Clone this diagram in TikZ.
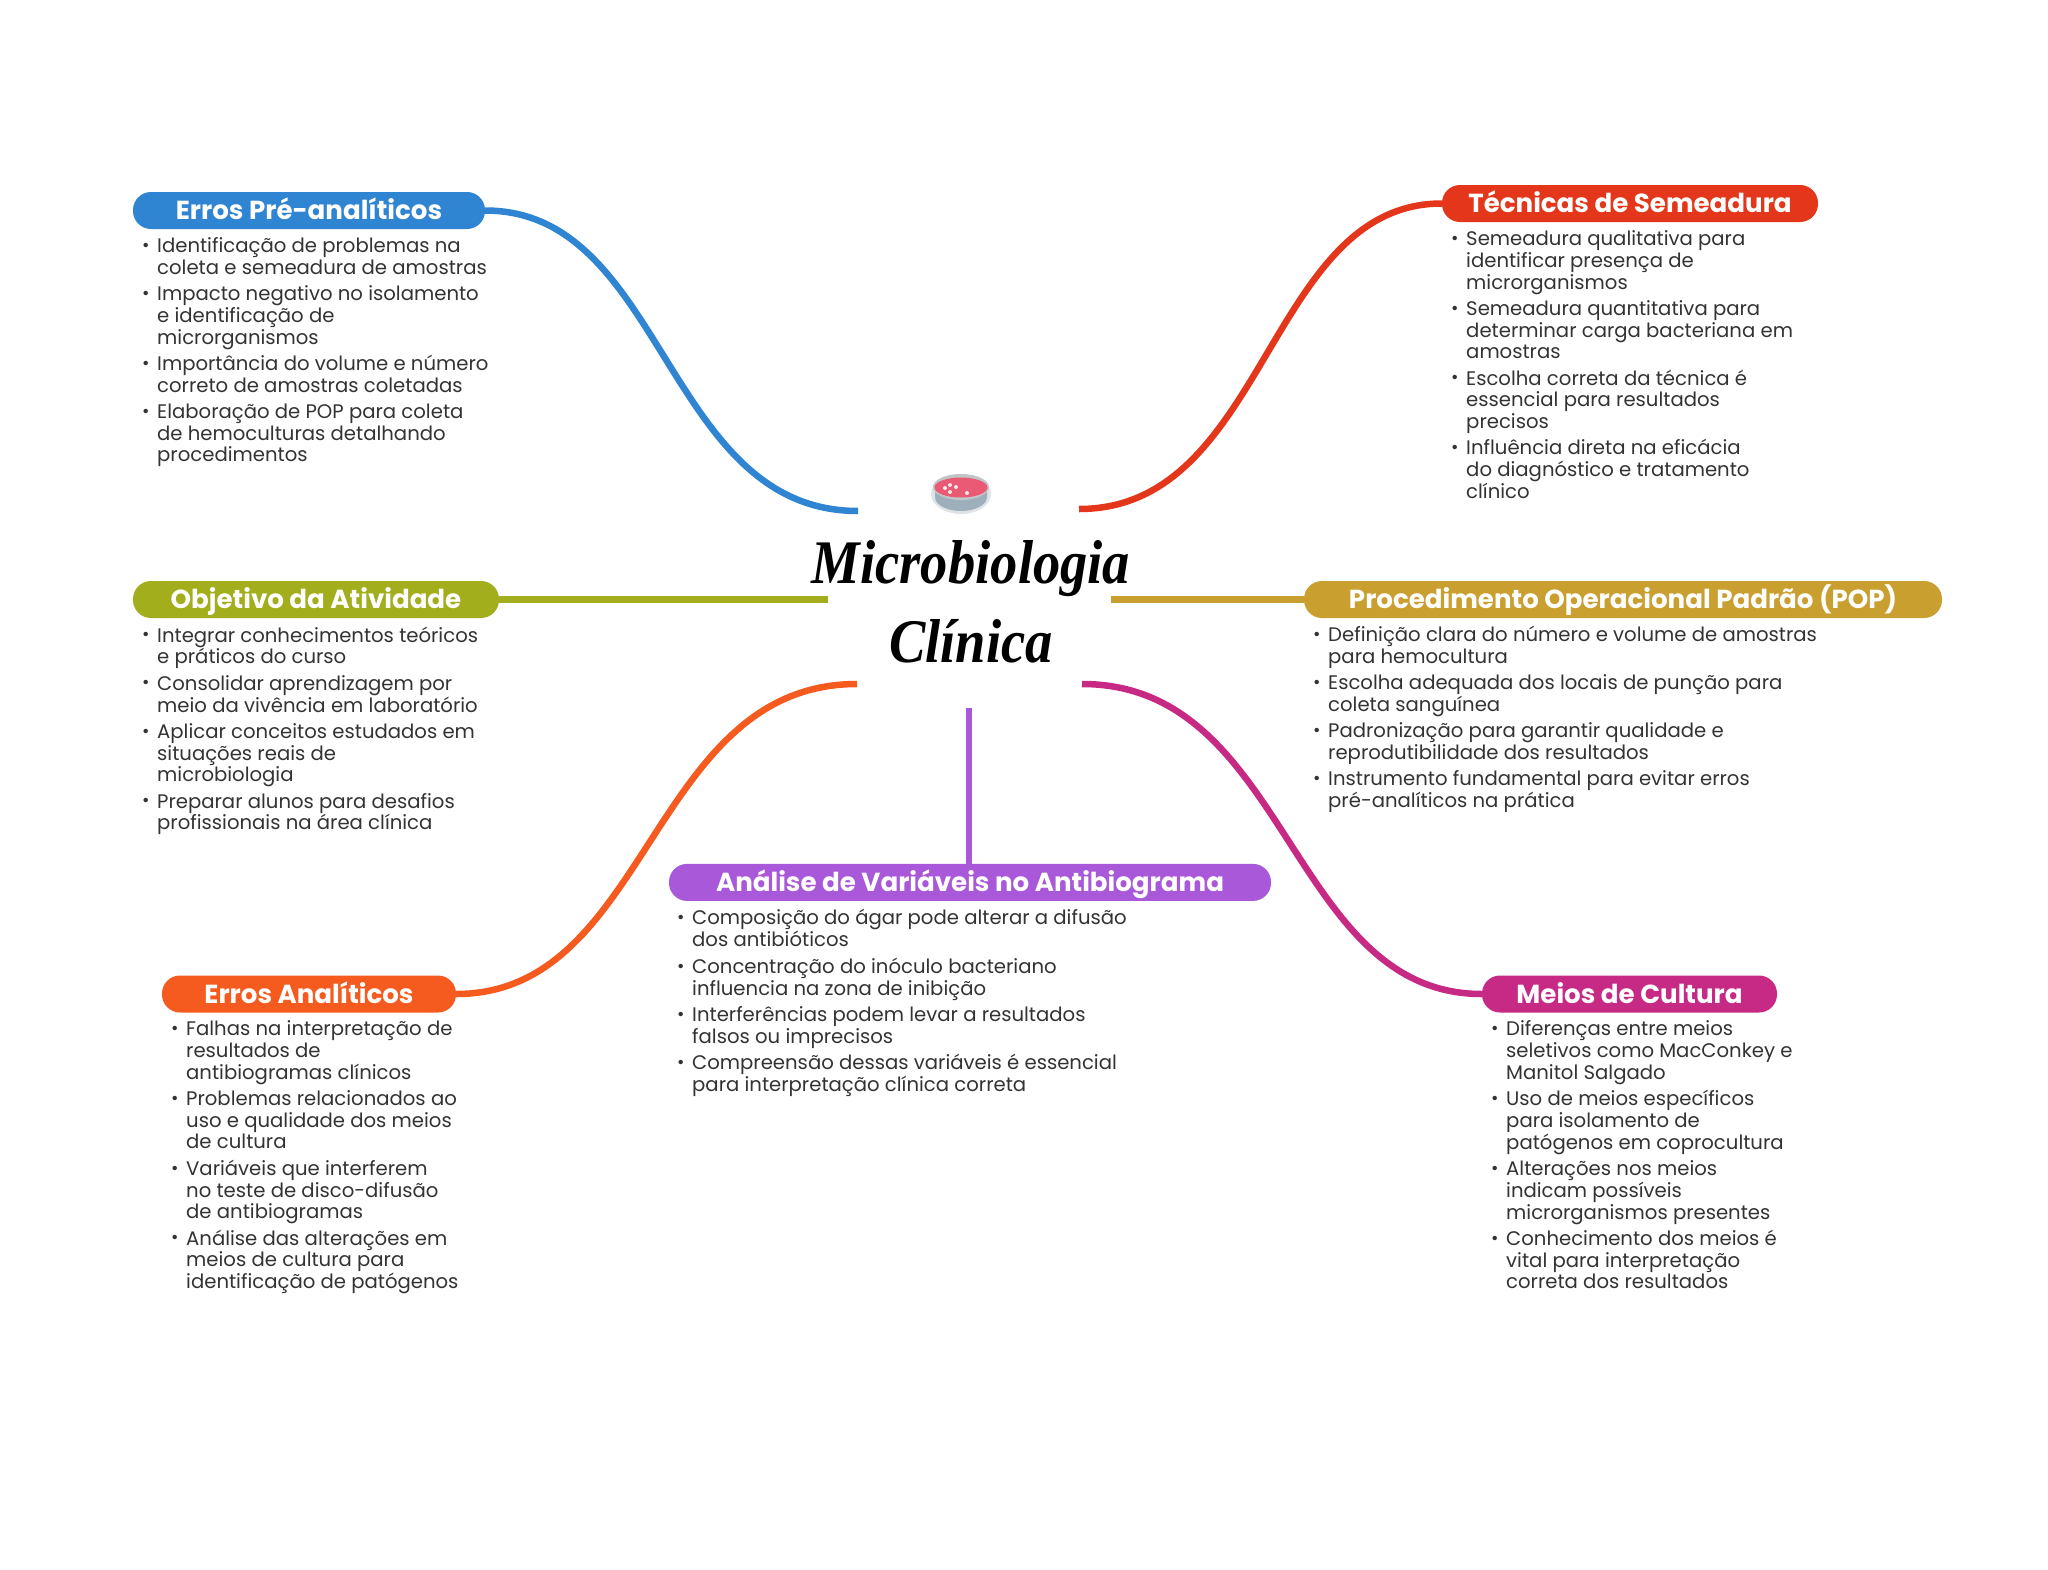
\documentclass[tikz,border=0pt]{standalone}
\usepackage{fontspec}
\setmainfont{Poppins}
\newfontfamily\titlefont[FakeStretch=0.88]{Liberation Serif}
\definecolor{cblue}{HTML}{3085D3}
\definecolor{cred}{HTML}{E4361A}
\definecolor{colive}{HTML}{A2AE1C}
\definecolor{cgold}{HTML}{C9A02F}
\definecolor{corange}{HTML}{F55B1F}
\definecolor{cmag}{HTML}{C62A85}
\definecolor{cpurple}{HTML}{A858D8}
\definecolor{ctext}{HTML}{333333}
\definecolor{petririm}{HTML}{DDE3E7}
\definecolor{petriside}{HTML}{9DAFBA}
\definecolor{petritop}{HTML}{EA5A74}
\newcommand\rowstrut{\vrule height15.19pt depth6.51pt width0pt}
\newcommand\bu[1]{\hbox{\rowstrut\makebox[15pt][l]{\raisebox{1.2pt}{\fontsize{18}{18}\selectfont •}}#1}}
\newcommand\co[1]{\hbox{\rowstrut\hspace*{15pt}#1}}
\newcommand\gp{\vskip4.5pt}
\tikzset{
  pill/.style={rounded corners=18pt,fill=#1,text=white,inner sep=0pt,minimum height=37pt,
    text height=22pt,text depth=4pt,font=\fontsize{26.1}{30}\selectfont\bfseries},
  blist/.style={anchor=north west,inner sep=0pt,text=ctext,
    font=\fontsize{19.65}{21.7}\selectfont},
  link/.style={line width=6.5pt,draw=#1},
  titletxt/.style={align=center,inner sep=0pt,text=black,
    font=\fontsize{62}{79}\titlefont\itshape\bfseries}
}
\begin{document}
\begin{tikzpicture}[x=1pt,y=-1pt]
\useasboundingbox (0,0) rectangle (2048,1569);
\fill[white] (0,0) rectangle (2048,1569);

% centre
\node[titletxt] (title) at (971,602) {Microbiologia\\Clínica};
\coordinate (e1) at (858,511);
\coordinate (e2) at (1079,509);
\coordinate (e3) at (828,599.5);
\coordinate (e4) at (1111,599.5);
\coordinate (e5) at (857,684);
\coordinate (e6) at (1082,684);
\coordinate (e7) at (969,708);

% petri dish
\fill[petririm] (961,494) ellipse (30pt and 20pt);
\fill[petriside] (935,489) -- (987,489) -- (987,497) arc[start angle=0,end angle=180,x radius=26pt,y radius=-14pt] -- cycle;
\fill[petririm!70!gray] (961,487) ellipse (28pt and 13pt);
\fill[petritop] (961,487.5) ellipse (26.5pt and 10pt);
\foreach \px/\py in {950/485,956/487,945/488,950/492,967/493}{\fill[white!85!petritop] (\px,\py) circle (2pt);}

% topics
\node[pill=cblue,minimum width=352pt] (n1) at (309,210.5) {Erros Pré-analíticos};
\node[pill=cred,minimum width=376pt] (n2) at (1630,203.5) {Técnicas de Semeadura};
\node[pill=colive,minimum width=366pt] (n3) at (316,599.5) {Objetivo da Atividade};
\node[pill=cgold,minimum width=638pt] (n4) at (1623,599.5) {Procedimento Operacional Padrão (POP)};
\node[pill=corange,minimum width=294pt] (n5) at (309,994) {Erros Analíticos};
\node[pill=cmag,minimum width=295pt] (n6) at (1629.5,994) {Meios de Cultura};
\node[pill=cpurple,minimum width=602pt] (n7) at (970,882.4) {Análise de Variáveis no Antibiograma};

% connectors
\draw[link=cblue] (n1.east) .. controls (665,210.5) and (665,511) .. (e1);
\draw[link=cred] (n2.west) .. controls (1267,203.5) and (1267,509) .. (e2);
\draw[link=colive] (n3.east) -- (e3);
\draw[link=cgold] (n4.west) -- (e4);
\draw[link=corange] (n5.east) .. controls (650,994) and (650,684) .. (e5);
\draw[link=cmag] (n6.west) .. controls (1289,994) and (1289,684) .. (e6);
\draw[link=cpurple] (n7.north -| e7) -- (e7);

% lists
\node[blist] (l1) at (142,237.4) {\vbox{\offinterlineskip
\bu{Identificação de problemas na}\co{coleta e semeadura de amostras}\gp
\bu{Impacto negativo no isolamento}\co{e identificação de}\co{microrganismos}\gp
\bu{Importância do volume e número}\co{correto de amostras coletadas}\gp
\bu{Elaboração de POP para coleta}\co{de hemoculturas detalhando}\co{procedimentos}}};
\node[blist] (l2) at (1451,230.4) {\vbox{\offinterlineskip
\bu{Semeadura qualitativa para}\co{identificar presença de}\co{microrganismos}\gp
\bu{Semeadura quantitativa para}\co{determinar carga bacteriana em}\co{amostras}\gp
\bu{Escolha correta da técnica é}\co{essencial para resultados}\co{precisos}\gp
\bu{Influência direta na eficácia}\co{do diagnóstico e tratamento}\co{clínico}}};
\node[blist] (l3) at (142,626.4) {\vbox{\offinterlineskip
\bu{Integrar conhecimentos teóricos}\co{e práticos do curso}\gp
\bu{Consolidar aprendizagem por}\co{meio da vivência em laboratório}\gp
\bu{Aplicar conceitos estudados em}\co{situações reais de}\co{microbiologia}\gp
\bu{Preparar alunos para desafios}\co{profissionais na área clínica}}};
\node[blist] (l4) at (1313,626.4) {\vbox{\offinterlineskip
\bu{Definição clara do número e volume de amostras}\co{para hemocultura}\gp
\bu{Escolha adequada dos locais de punção para}\co{coleta sanguínea}\gp
\bu{Padronização para garantir qualidade e}\co{reprodutibilidade dos resultados}\gp
\bu{Instrumento fundamental para evitar erros}\co{pré-analíticos na prática}}};
\node[blist] (l5) at (171,1020.4) {\vbox{\offinterlineskip
\bu{Falhas na interpretação de}\co{resultados de}\co{antibiogramas clínicos}\gp
\bu{Problemas relacionados ao}\co{uso e qualidade dos meios}\co{de cultura}\gp
\bu{Variáveis que interferem}\co{no teste de disco-difusão}\co{de antibiogramas}\gp
\bu{Análise das alterações em}\co{meios de cultura para}\co{identificação de patógenos}}};
\node[blist] (l6) at (1491,1020.4) {\vbox{\offinterlineskip
\bu{Diferenças entre meios}\co{seletivos como MacConkey e}\co{Manitol Salgado}\gp
\bu{Uso de meios específicos}\co{para isolamento de}\co{patógenos em coprocultura}\gp
\bu{Alterações nos meios}\co{indicam possíveis}\co{microrganismos presentes}\gp
\bu{Conhecimento dos meios é}\co{vital para interpretação}\co{correta dos resultados}}};
\node[blist] (l7) at (677,909.4) {\vbox{\offinterlineskip
\bu{Composição do ágar pode alterar a difusão}\co{dos antibióticos}\gp
\bu{Concentração do inóculo bacteriano}\co{influencia na zona de inibição}\gp
\bu{Interferências podem levar a resultados}\co{falsos ou imprecisos}\gp
\bu{Compreensão dessas variáveis é essencial}\co{para interpretação clínica correta}}};
\end{tikzpicture}
\end{document}
